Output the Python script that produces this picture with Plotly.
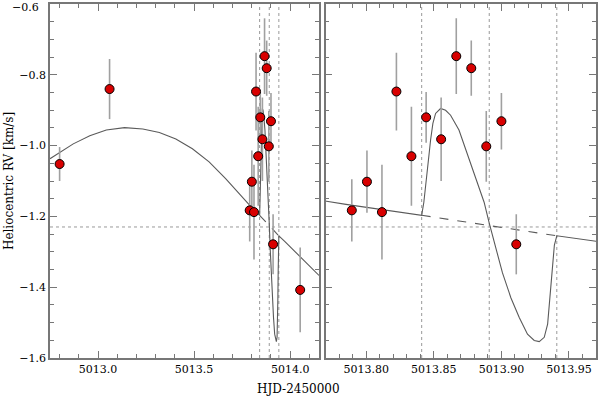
import plotly.graph_objects as go

# measured radial velocities (HJD-2450000, km/s, error)
hjd = [5012.80, 5013.06, 5013.7893, 5013.8005, 5013.8116, 5013.8223, 5013.8334,
       5013.8443, 5013.8554, 5013.8666, 5013.8777, 5013.8888, 5013.900, 5013.911, 5014.052]
rv = [-1.052, -0.840, -1.183, -1.102, -1.188, -0.847, -1.030,
      -0.920, -0.982, -0.747, -0.781, -1.002, -0.931, -1.279, -1.408]
rv_err = [0.048, 0.085, 0.088, 0.088, 0.134, 0.110, 0.140,
          0.072, 0.118, 0.107, 0.078, 0.100, 0.080, 0.085, 0.120]

# orbital model before transit
orbit_t = [5012.75, 5012.80, 5012.871, 5012.957, 5013.043, 5013.138, 5013.233, 5013.319,
           5013.405, 5013.491, 5013.578, 5013.664, 5013.733, 5013.785]
orbit_v = [-1.037, -1.019, -0.995, -0.972, -0.956, -0.949, -0.953, -0.963,
           -0.981, -1.009, -1.046, -1.093, -1.135, -1.166]

# Rossiter-McLaughlin anomaly during transit
rm_t = [5013.841, 5013.8426, 5013.8438, 5013.8450, 5013.8463, 5013.8476, 5013.8493, 5013.8513,
        5013.8550, 5013.8587, 5013.8624, 5013.8686, 5013.8747, 5013.8810, 5013.8872, 5013.8909,
        5013.8958, 5013.9008, 5013.9070, 5013.9132, 5013.9193, 5013.9243, 5013.9280, 5013.9317,
        5013.9342, 5013.9360, 5013.9375, 5013.9392, 5013.941]
rm_v = [-1.197, -1.160, -1.123, -1.077, -1.030, -0.984, -0.937, -0.909,
        -0.895, -0.900, -0.914, -0.956, -1.021, -1.091, -1.160, -1.218,
        -1.290, -1.360, -1.430, -1.486, -1.533, -1.551, -1.554, -1.542,
        -1.505, -1.430, -1.356, -1.281, -1.255]

# orbital model after transit
post_t = [5013.97, 5014.05, 5014.15]
post_v = [-1.270, -1.312, -1.367]

# orbit alone across the transit (dashed)
dash_t = [5013.841, 5013.941]
dash_v = [-1.197, -1.255]

transit_marks = [5013.841, 5013.891, 5013.941]
v_sys = -1.23

curve_t = orbit_t + rm_t + post_t
curve_v = orbit_v + rm_v + post_v

GREY = "#777777"
FONT = "DejaVu Serif"

fig = go.Figure()
for xa, ya in [("x", "y"), ("x2", "y2")]:
    fig.add_trace(go.Scatter(x=curve_t, y=curve_v, mode="lines", xaxis=xa, yaxis=ya,
                             line=dict(color="#5a5a5a", width=1.1), showlegend=False))
    fig.add_trace(go.Scatter(x=dash_t, y=dash_v, mode="lines", xaxis=xa, yaxis=ya,
                             line=dict(color="#5a5a5a", width=1.1, dash="dash"), showlegend=False))
    fig.add_trace(go.Scatter(x=hjd, y=rv, mode="markers", xaxis=xa, yaxis=ya,
                             error_y=dict(type="data", array=rv_err, color="#a0a0a0",
                                          thickness=1.6, width=0),
                             marker=dict(size=9, color="#d80000", line=dict(color="black", width=1)),
                             showlegend=False))

shapes = []
for xr, yr in [("x", "y"), ("x2", "y2")]:
    for t in transit_marks:
        shapes.append(dict(type="line", xref=xr, yref=yr + " domain", x0=t, x1=t, y0=0, y1=1,
                           line=dict(color="#999999", width=1, dash="dot"), layer="below"))
    shapes.append(dict(type="line", xref=xr + " domain", yref=yr, x0=0, x1=1, y0=v_sys, y1=v_sys,
                       line=dict(color="#999999", width=1, dash="dot"), layer="below"))

axis_common = dict(showline=True, linecolor=GREY, linewidth=1.5, mirror="ticks",
                   ticks="inside", tickcolor=GREY, ticklen=7, tickwidth=1,
                   showgrid=False, zeroline=False,
                   tickfont=dict(family=FONT, size=11, color="black"))

y_range = [-1.6005, -0.5995]

fig.update_layout(
    width=600, height=398,
    margin=dict(l=50, r=2, t=3, b=40),
    plot_bgcolor="white", paper_bgcolor="white",
    font=dict(family=FONT, size=12, color="black"),
    xaxis=dict(domain=[0, 0.4927], range=[5012.75, 5014.15], dtick=0.5, tick0=5013.0,
               tickformat=".1f", minor=dict(ticks="inside", ticklen=4, dtick=0.1, tickcolor=GREY),
               **axis_common),
    yaxis=dict(range=y_range, dtick=0.2, tick0=-1.6, tickformat=".1f",
               minor=dict(ticks="inside", ticklen=4, dtick=0.05, tickcolor=GREY),
               **axis_common),
    xaxis2=dict(domain=[0.505, 1.0], range=[5013.77, 5013.97], dtick=0.05, tick0=5013.80,
                tickformat=".2f", minor=dict(ticks="inside", ticklen=4, dtick=0.01, tickcolor=GREY),
                anchor="y2", **axis_common),
    yaxis2=dict(range=y_range, dtick=0.2, tick0=-1.6, showticklabels=False, anchor="x2",
                minor=dict(ticks="inside", ticklen=4, dtick=0.05, tickcolor=GREY),
                **axis_common),
    shapes=shapes,
    annotations=[
        # top tick label sits a little below its tick so it stays on the page
        dict(text="\u22120.6", xref="paper", yref="paper", x=-0.016, y=0.989,
             xanchor="right", yanchor="middle", showarrow=False, font=dict(family=FONT, size=11)),
        dict(text="HJD-2450000", xref="paper", yref="paper", x=0.456, y=-0.062,
             xanchor="center", yanchor="top", showarrow=False, font=dict(family=FONT, size=12)),
        dict(text="Heliocentric RV [km/s]", xref="paper", yref="paper", x=-0.075, y=0.5,
             xanchor="center", yanchor="middle", textangle=-90, showarrow=False,
             font=dict(family=FONT, size=12)),
    ],
)

# drop the default page margin so the figure sits at the window's corner
fig.write_html("out.html", config={"displayModeBar": False},
               post_script="document.body.style.margin='0';")
